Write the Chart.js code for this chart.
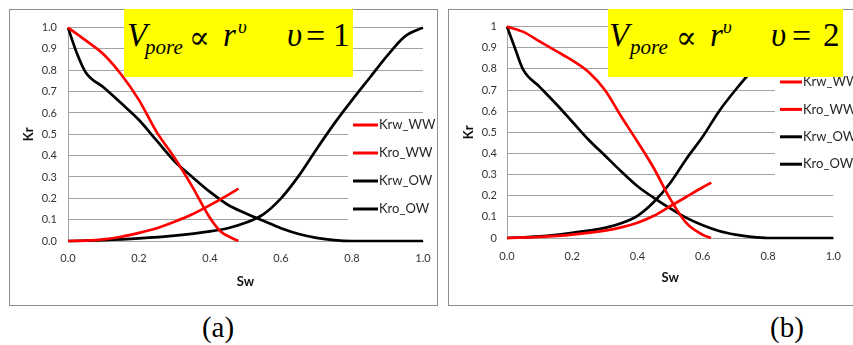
<!DOCTYPE html>
<html>
<head>
<meta charset="utf-8">
<script src="https://cdn.jsdelivr.net/npm/chart.js@4.4.0/dist/chart.umd.min.js"></script>
<style>
  body { margin: 0; background: #fff; width: 853px; height: 345px; overflow: hidden; position: relative; }
  .panel { position: absolute; top: 9px; height: 297px; box-sizing: border-box; border: 1px solid #8e8e8e; overflow: hidden; background: #fff; }
  #panelA { left: 9px; width: 429px; }
  #panelB { left: 448px; width: 420px; }
  .panel canvas { position: absolute; left: 0; top: 0; }
  .formula { position: absolute; top: 9px; height: 68px; background: #ffff00; font-family: 'Liberation Serif', 'Times New Roman', serif; color: #000; }
  .formula span { position: absolute; line-height: 1; white-space: nowrap; }
  .cap { position: absolute; top: 313px; font: 29px 'Liberation Serif', serif; line-height: 1; transform: translateX(-50%); }
</style>
</head>
<body>
<div class="panel" id="panelA"><canvas id="chartA" width="500" height="295" style="width:500px;height:295px"></canvas></div>
<div class="panel" id="panelB"><canvas id="chartB" width="404" height="295" style="width:404px;height:295px"></canvas></div>
<div class="formula" id="formulaA" style="left:124px;width:229px"></div>
<div class="formula" id="formulaB" style="left:608px;width:235px"></div>
<div class="cap" style="left:218px">(a)</div>
<div class="cap" style="left:787px">(b)</div>

<script>
// series names and axis labels
const seriesNames = ['Krw_WW', 'Kro_WW', 'Krw_OW', 'Kro_OW'];
const xTickLabels = ['0.0', '0.2', '0.4', '0.6', '0.8', '1.0'];
const yTickLabelsA = ['0.0', '0.1', '0.2', '0.3', '0.4', '0.5', '0.6', '0.7', '0.8', '0.9', '1.0'];
const yTickLabelsB = ['0', '0.1', '0.2', '0.3', '0.4', '0.5', '0.6', '0.7', '0.8', '0.9', '1'];

// (a) v = 1
const swKrwWW_a = [0, 0.05, 0.1, 0.15, 0.2, 0.25, 0.3, 0.35, 0.4, 0.45, 0.48];
const krwWW_a   = [0, 0.002, 0.008, 0.02, 0.038, 0.06, 0.09, 0.125, 0.168, 0.215, 0.245];
const swKroWW_a = [0, 0.05, 0.1, 0.15, 0.2, 0.25, 0.3, 0.35, 0.4, 0.43, 0.46, 0.48];
const kroWW_a   = [1, 0.94, 0.875, 0.78, 0.66, 0.51, 0.39, 0.255, 0.108, 0.045, 0.015, 0];
const swKrwOW_a = [0, 0.1, 0.2, 0.3, 0.4, 0.45, 0.5, 0.55, 0.6, 0.65, 0.7, 0.75, 0.8, 0.85, 0.9, 0.95, 1.0];
const krwOW_a   = [0, 0.004, 0.012, 0.025, 0.045, 0.06, 0.085, 0.125, 0.2, 0.305, 0.43, 0.55, 0.66, 0.765, 0.87, 0.96, 1.0];
const swKroOW_a = [0, 0.025, 0.05, 0.1, 0.15, 0.2, 0.25, 0.3, 0.35, 0.4, 0.45, 0.5, 0.55, 0.6, 0.65, 0.7, 0.75, 0.8, 0.85, 1.0];
const kroOW_a   = [1, 0.88, 0.79, 0.72, 0.645, 0.567, 0.47, 0.374, 0.3, 0.23, 0.17, 0.13, 0.095, 0.06, 0.033, 0.015, 0.004, 0, 0, 0];

// (b) v = 2
const swKrwWW_b = [0, 0.1, 0.2, 0.3, 0.35, 0.4, 0.45, 0.5, 0.55, 0.6, 0.626];
const krwWW_b   = [0, 0.005, 0.016, 0.035, 0.05, 0.072, 0.105, 0.15, 0.195, 0.24, 0.262];
const swKroWW_b = [0, 0.05, 0.1, 0.15, 0.2, 0.25, 0.3, 0.35, 0.4, 0.45, 0.5, 0.55, 0.6, 0.625];
const kroWW_b   = [1, 0.975, 0.93, 0.885, 0.84, 0.785, 0.7, 0.575, 0.455, 0.33, 0.185, 0.07, 0.015, 0];
const swKrwOW_b = [0, 0.1, 0.2, 0.3, 0.35, 0.4, 0.45, 0.5, 0.55, 0.6, 0.65, 0.7, 0.75, 0.8, 0.85, 0.9, 0.95, 1.0];
const krwOW_b   = [0, 0.008, 0.025, 0.048, 0.07, 0.105, 0.17, 0.26, 0.375, 0.48, 0.6, 0.7, 0.79, 0.86, 0.92, 0.96, 0.99, 1.0];
const swKroOW_b = [0, 0.025, 0.05, 0.1, 0.15, 0.2, 0.25, 0.3, 0.35, 0.4, 0.45, 0.5, 0.55, 0.6, 0.65, 0.7, 0.75, 0.8, 0.85, 1.0];
const kroOW_b   = [1, 0.895, 0.795, 0.715, 0.635, 0.55, 0.465, 0.39, 0.315, 0.245, 0.19, 0.14, 0.095, 0.06, 0.033, 0.016, 0.005, 0, 0, 0];

const lineColors = ['#ff0000', '#ff0000', '#000000', '#000000'];
const gridColor = '#a3a3a3';
const tickFont = { family: 'Lato', size: 11 };
const titleFont = { family: 'Lato', size: 13, weight: 'bold' };

const series = (sw, kr, i) => ({
  label: seriesNames[i],
  data: sw.map((x, j) => ({ x, y: kr[j] })),
  borderColor: lineColors[i],
  borderWidth: 2.7,
  pointRadius: 0,
  fill: false,
  cubicInterpolationMode: 'monotone',
  clip: 6
});

// legend drawn over the plot area, white box hides the grid behind it
const legendBox = {
  id: 'legendBox',
  afterDraw(chart, args, o) {
    const ctx = chart.ctx;
    ctx.save();
    ctx.fillStyle = '#fff';
    ctx.fillRect(o.box[0], o.box[1], o.box[2], o.box[3]);
    ctx.font = '13px Lato';
    ctx.textBaseline = 'middle';
    chart.data.datasets.forEach((ds, i) => {
      const y = o.y + i * o.gap;
      ctx.strokeStyle = ds.borderColor;
      ctx.lineWidth = 3;
      ctx.beginPath();
      ctx.moveTo(o.x, y);
      ctx.lineTo(o.x + o.len, y);
      ctx.stroke();
      ctx.fillStyle = '#262626';
      ctx.fillText(ds.label, o.x + o.len + 1, y);
    });
    ctx.restore();
  }
};

function makeChart(id, datasets, yLabels, g) {
  return new Chart(document.getElementById(id), {
    type: 'line',
    data: { datasets },
    plugins: [legendBox],
    options: {
      responsive: false,
      animation: false,
      devicePixelRatio: 1,
      layout: { padding: { left: g.padLeft, top: 13, right: g.padRight, bottom: g.padBottom } },
      plugins: {
        legend: { display: false },
        tooltip: { enabled: false },
        legendBox: g.legend
      },
      scales: {
        x: {
          type: 'linear', min: 0, max: 1,
          grid: { display: false, drawTicks: false },
          border: { display: true, color: gridColor },
          ticks: { stepSize: 0.2, padding: g.xPad, color: '#333', font: tickFont,
                   callback: (v, i) => xTickLabels[i] },
          title: { display: true, text: 'Sw', color: '#111', font: titleFont, padding: 0 },
          afterFit: s => { s.height = g.xHeight; }
        },
        y: {
          type: 'linear', min: 0, max: 1,
          grid: { color: gridColor, drawTicks: false },
          border: { display: true, color: gridColor },
          ticks: { stepSize: 0.1, padding: g.yPad, color: '#333', font: tickFont,
                   callback: (v, i) => yLabels[i] },
          title: { display: true, text: 'Kr', color: '#111', font: titleFont, padding: 0 },
          afterFit: s => { s.width = g.yWidth; }
        }
      }
    }
  });
}

makeChart('chartA', [
  series(swKrwWW_a, krwWW_a, 0),
  series(swKroWW_a, kroWW_a, 1),
  series(swKrwOW_a, krwOW_a, 2),
  series(swKroOW_a, kroOW_a, 3)
], yTickLabelsA, {
  padLeft: 11, yWidth: 47, padRight: 87, padBottom: 15, xHeight: 49, xPad: 11, yPad: 11,
  legend: { box: [338, 103, 200, 113], x: 343, y: 115, gap: 28, len: 25 }
});

makeChart('chartB', [
  series(swKrwWW_b, krwWW_b, 0),
  series(swKroWW_b, kroWW_b, 1),
  series(swKrwOW_b, krwOW_b, 2),
  series(swKroOW_b, kroOW_b, 3)
], yTickLabelsB, {
  padLeft: 12, yWidth: 46, padRight: 19, padBottom: 19, xHeight: 48, xPad: 12, yPad: 10,
  legend: { box: [326, 67, 100, 103], x: 331, y: 72, gap: 27.4, len: 22 }
});

// formula boxes: V_pore ∝ r^υ   υ = n
function formula(id, pos, n) {
  const parts = [
    ['V', 'italic', 33, pos[0], 38, 'Liberation Serif'],
    ['pore', 'italic', 21, pos[1], 46, 'Liberation Serif'],
    ['\u221D', 'normal', 31, pos[2], 39, 'DejaVu Serif'],
    ['r', 'italic', 33, pos[3], 38, 'Liberation Serif'],
    ['\u03C5', 'italic', 19, pos[4], 24, 'Liberation Serif'],
    ['\u03C5', 'italic', 33, pos[5], 38, 'Liberation Serif'],
    ['=', 'normal', 34, pos[6], 38, 'Liberation Serif'],
    [n, 'normal', 33, pos[7], 38, 'Liberation Serif']
  ];
  const box = document.getElementById(id);
  parts.forEach(([t, st, fs, left, base, fam]) => {
    const s = document.createElement('span');
    s.textContent = t;
    s.style.fontFamily = "'" + fam + "', serif";
    s.style.fontStyle = st;
    s.style.fontSize = fs + 'px';
    s.style.left = left + 'px';
    s.style.top = (base - 0.8375 * fs) + 'px';
    box.appendChild(s);
  });
}
formula('formulaA', [3, 21, 65, 99, 114, 163, 182, 209], '1');
formula('formulaB', [1, 22, 68, 102, 115, 163, 184, 215], '2');
</script>
</body>
</html>
